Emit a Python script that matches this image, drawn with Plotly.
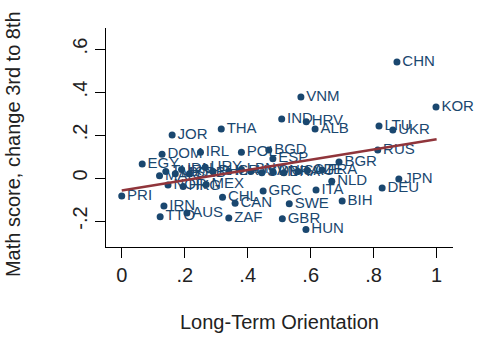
import plotly.graph_objects as go

# ---- data ----
countries = ["CHN", "KOR", "VNM", "IND", "HRV", "ALB", "THA", "JOR", "LTU", "UKR",
             "RUS", "BGR", "JPN", "DEU", "NLD", "BIH", "ITA", "FRA", "GRC", "SWE",
             "GBR", "HUN", "CAN", "ZAF", "CHL", "AUS", "IRN", "TTO", "PRI", "EGY",
             "DOM", "IRL", "POL", "BGD", "ESP",
             "MAR", "NOR", "TUR", "MYS", "IDN", "SRB", "HKG", "URY", "MEX", "PHL",
             "ISR", "LBN", "USA", "SVN", "DNK", "BRA", "SAU", "CZE"]
lto = [0.874, 0.998, 0.569, 0.508, 0.586, 0.614, 0.316, 0.160, 0.817, 0.861,
       0.813, 0.690, 0.880, 0.827, 0.667, 0.700, 0.617, 0.636, 0.449, 0.532,
       0.510, 0.585, 0.360, 0.340, 0.320, 0.207, 0.134, 0.122, 0.000, 0.065,
       0.128, 0.250, 0.380, 0.467, 0.480,
       0.120, 0.147, 0.140, 0.170, 0.190, 0.215, 0.195, 0.265, 0.268, 0.290,
       0.340, 0.380, 0.410, 0.445, 0.480, 0.515, 0.560, 0.590]
math_change = [0.540, 0.330, 0.377, 0.274, 0.262, 0.228, 0.228, 0.200, 0.242, 0.223,
               0.130, 0.074, -0.005, -0.047, -0.015, -0.107, -0.056, 0.037, -0.060, -0.120,
               -0.190, -0.240, -0.118, -0.186, -0.090, -0.163, -0.130, -0.180, -0.084, 0.065,
               0.110, 0.120, 0.120, 0.130, 0.090,
               0.010, -0.033, 0.030, 0.020, 0.040, 0.020, -0.040, 0.050, -0.030, 0.030,
               0.030, 0.040, 0.030, 0.025, 0.030, 0.025, 0.030, 0.035]

# linear fit shown in the reference (endpoints at x = 0 and x = 1)
fit_x = [0.0, 1.0]
fit_y = [-0.058, 0.180]

x_ticks = [0, 0.2, 0.4, 0.6, 0.8, 1.0]
x_ticktext = ["0", ".2", ".4", ".6", ".8", "1"]
y_ticks = [-0.2, 0.0, 0.2, 0.4, 0.6]
y_ticktext = ["-.2", "0", ".2", ".4", ".6"]

NAVY = "#1a476f"
MAROON = "#90353b"
FONT = "Liberation Sans, Arial, sans-serif"

fig = go.Figure()
fig.add_trace(go.Scatter(
    x=lto, y=math_change, text=countries, mode="markers+text",
    textposition="middle right",
    marker=dict(color=NAVY, size=7),
    textfont=dict(color=NAVY, size=15, family=FONT),
    cliponaxis=False, showlegend=False))
fig.add_trace(go.Scatter(
    x=fit_x, y=fit_y, mode="lines",
    line=dict(color=MAROON, width=2.5), showlegend=False))

fig.update_layout(
    width=481, height=338,
    margin=dict(l=106, r=28, t=28, b=91),
    paper_bgcolor="white", plot_bgcolor="white",
    font=dict(family=FONT, color="#222222"),
    xaxis=dict(range=[-0.05, 1.052], tickvals=x_ticks, ticktext=x_ticktext,
               showgrid=False, zeroline=False, showline=True, linecolor="black",
               linewidth=1, ticks="outside", ticklen=10, tickcolor="black",
               tickfont=dict(size=20)),
    yaxis=dict(range=[-0.321, 0.698], tickvals=y_ticks, ticktext=y_ticktext,
               showgrid=False, zeroline=False, showline=True, linecolor="black",
               linewidth=1, ticks="outside", ticklen=10, tickcolor="black",
               tickangle=-90, tickfont=dict(size=20)),
    annotations=[
        dict(text="Math score, change 3rd to 8th", xref="paper", yref="paper",
             x=-0.268, y=0.47, xanchor="center", yanchor="middle", textangle=-90,
             showarrow=False, font=dict(size=20, color="#222222")),
        dict(text="Long-Term Orientation", xref="paper", yref="paper",
             x=0.5, y=-0.342, xanchor="center", yanchor="middle",
             showarrow=False, font=dict(size=20, color="#222222")),
    ],
)

fig.write_html("out.html", config={"displayModeBar": False})
